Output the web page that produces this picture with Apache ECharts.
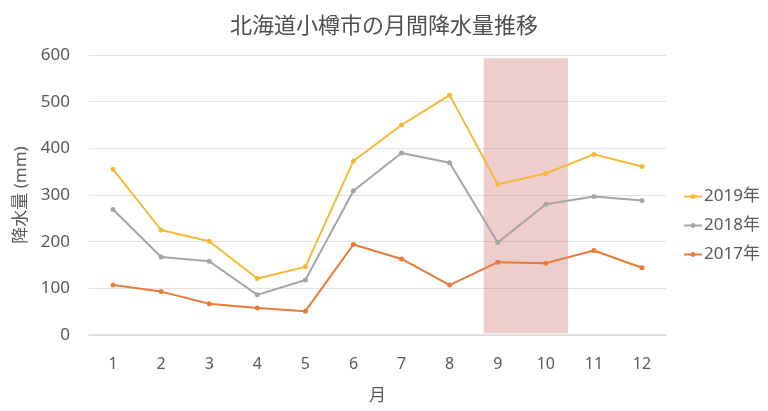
<!DOCTYPE html>
<html lang="ja">
<head>
  <meta charset="UTF-8">
  <title>北海道小樽市の月間降水量推移</title>
  <style>
    html, body { margin: 0; padding: 0; background: #fff; }
    #main { width: 768px; height: 411px; }
  </style>
</head>
<body>
  <div id="main"></div>
  <script src="https://cdn.jsdelivr.net/npm/echarts@6/dist/echarts.min.js"></script>
  <script>
    // 月
    var months = ['1', '2', '3', '4', '5', '6', '7', '8', '9', '10', '11', '12'];

    // 降水量 (mm)
    var rain2019 = [355, 225, 201, 121, 146, 373, 450, 514, 323, 346, 387, 361];
    var rain2018 = [269, 167, 158, 86, 118, 309, 390, 369, 198, 280, 297, 288];
    var rain2017 = [107, 93, 67, 58, 51, 194, 163, 107, 156, 154, 181, 144];

    var seriesNames = ['2019年', '2018年', '2017年'];

    // 強調範囲 (月の位置, 降水量)
    var highlightFrom = [8.71, 593];
    var highlightTo = [10.46, 4];

    var font = '"Noto Sans", "Noto Sans CJK JP", sans-serif';
    var myChart = echarts.init(document.getElementById('main'));

    function lineSeries(name, data, color) {
      return {
        name: name,
        type: 'line',
        data: data,
        symbol: 'circle',
        symbolSize: 5,
        lineStyle: { width: 2, color: color },
        itemStyle: { color: color },
        z: 2
      };
    }

    var option = {
      animation: false,
      textStyle: { fontFamily: font },
      title: {
        text: '北海道小樽市の月間降水量推移',
        left: 'center',
        top: 9,
        textStyle: { fontSize: 22, fontWeight: 'normal', color: '#4f4f4f', fontFamily: '"Noto Sans CJK JP", sans-serif' }
      },
      legend: {
        orient: 'vertical',
        left: 678,
        top: 183,
        itemWidth: 18,
        itemHeight: 6,
        itemGap: 12,
        data: seriesNames,
        textStyle: { fontSize: 17, color: '#595959', fontFamily: font, padding: [0, 0, 0, -3] }
      },
      grid: { left: 89, right: 102, top: 55, bottom: 76 },
      xAxis: [
        {
          type: 'category',
          data: months,
          boundaryGap: true,
          name: '月',
          nameLocation: 'middle',
          nameGap: 53,
          nameTextStyle: { fontSize: 17, color: '#595959' },
          axisLine: { lineStyle: { color: '#d9d9d9', width: 1.5 } },
          axisTick: { show: false },
          axisLabel: { fontSize: 16, color: '#595959', margin: 21 }
        },
        {
          type: 'value',
          min: 0.5,
          max: 12.5,
          show: false
        }
      ],
      yAxis: {
        type: 'value',
        min: 0,
        max: 600,
        interval: 100,
        name: '降水量 (mm)',
        nameLocation: 'middle',
        nameGap: 56,
        nameTextStyle: { fontSize: 17, color: '#595959' },
        axisLine: { show: false },
        axisTick: { show: false },
        axisLabel: { fontSize: 17, color: '#595959', margin: 19 },
        splitLine: { lineStyle: { color: '#e3e3e3', width: 1 } }
      },
      series: [
        lineSeries(seriesNames[0], rain2019, '#F6B936'),
        lineSeries(seriesNames[1], rain2018, '#A5A5A5'),
        lineSeries(seriesNames[2], rain2017, '#E97A3A'),
        {
          name: 'highlight',
          type: 'line',
          xAxisIndex: 1,
          yAxisIndex: 0,
          data: [],
          silent: true,
          z: 5,
          markArea: {
            silent: true,
            itemStyle: { color: 'rgba(200, 90, 90, 0.3)' },
            data: [[{ coord: highlightFrom }, { coord: highlightTo }]]
          }
        }
      ]
    };

    myChart.setOption(option);
  </script>
</body>
</html>
